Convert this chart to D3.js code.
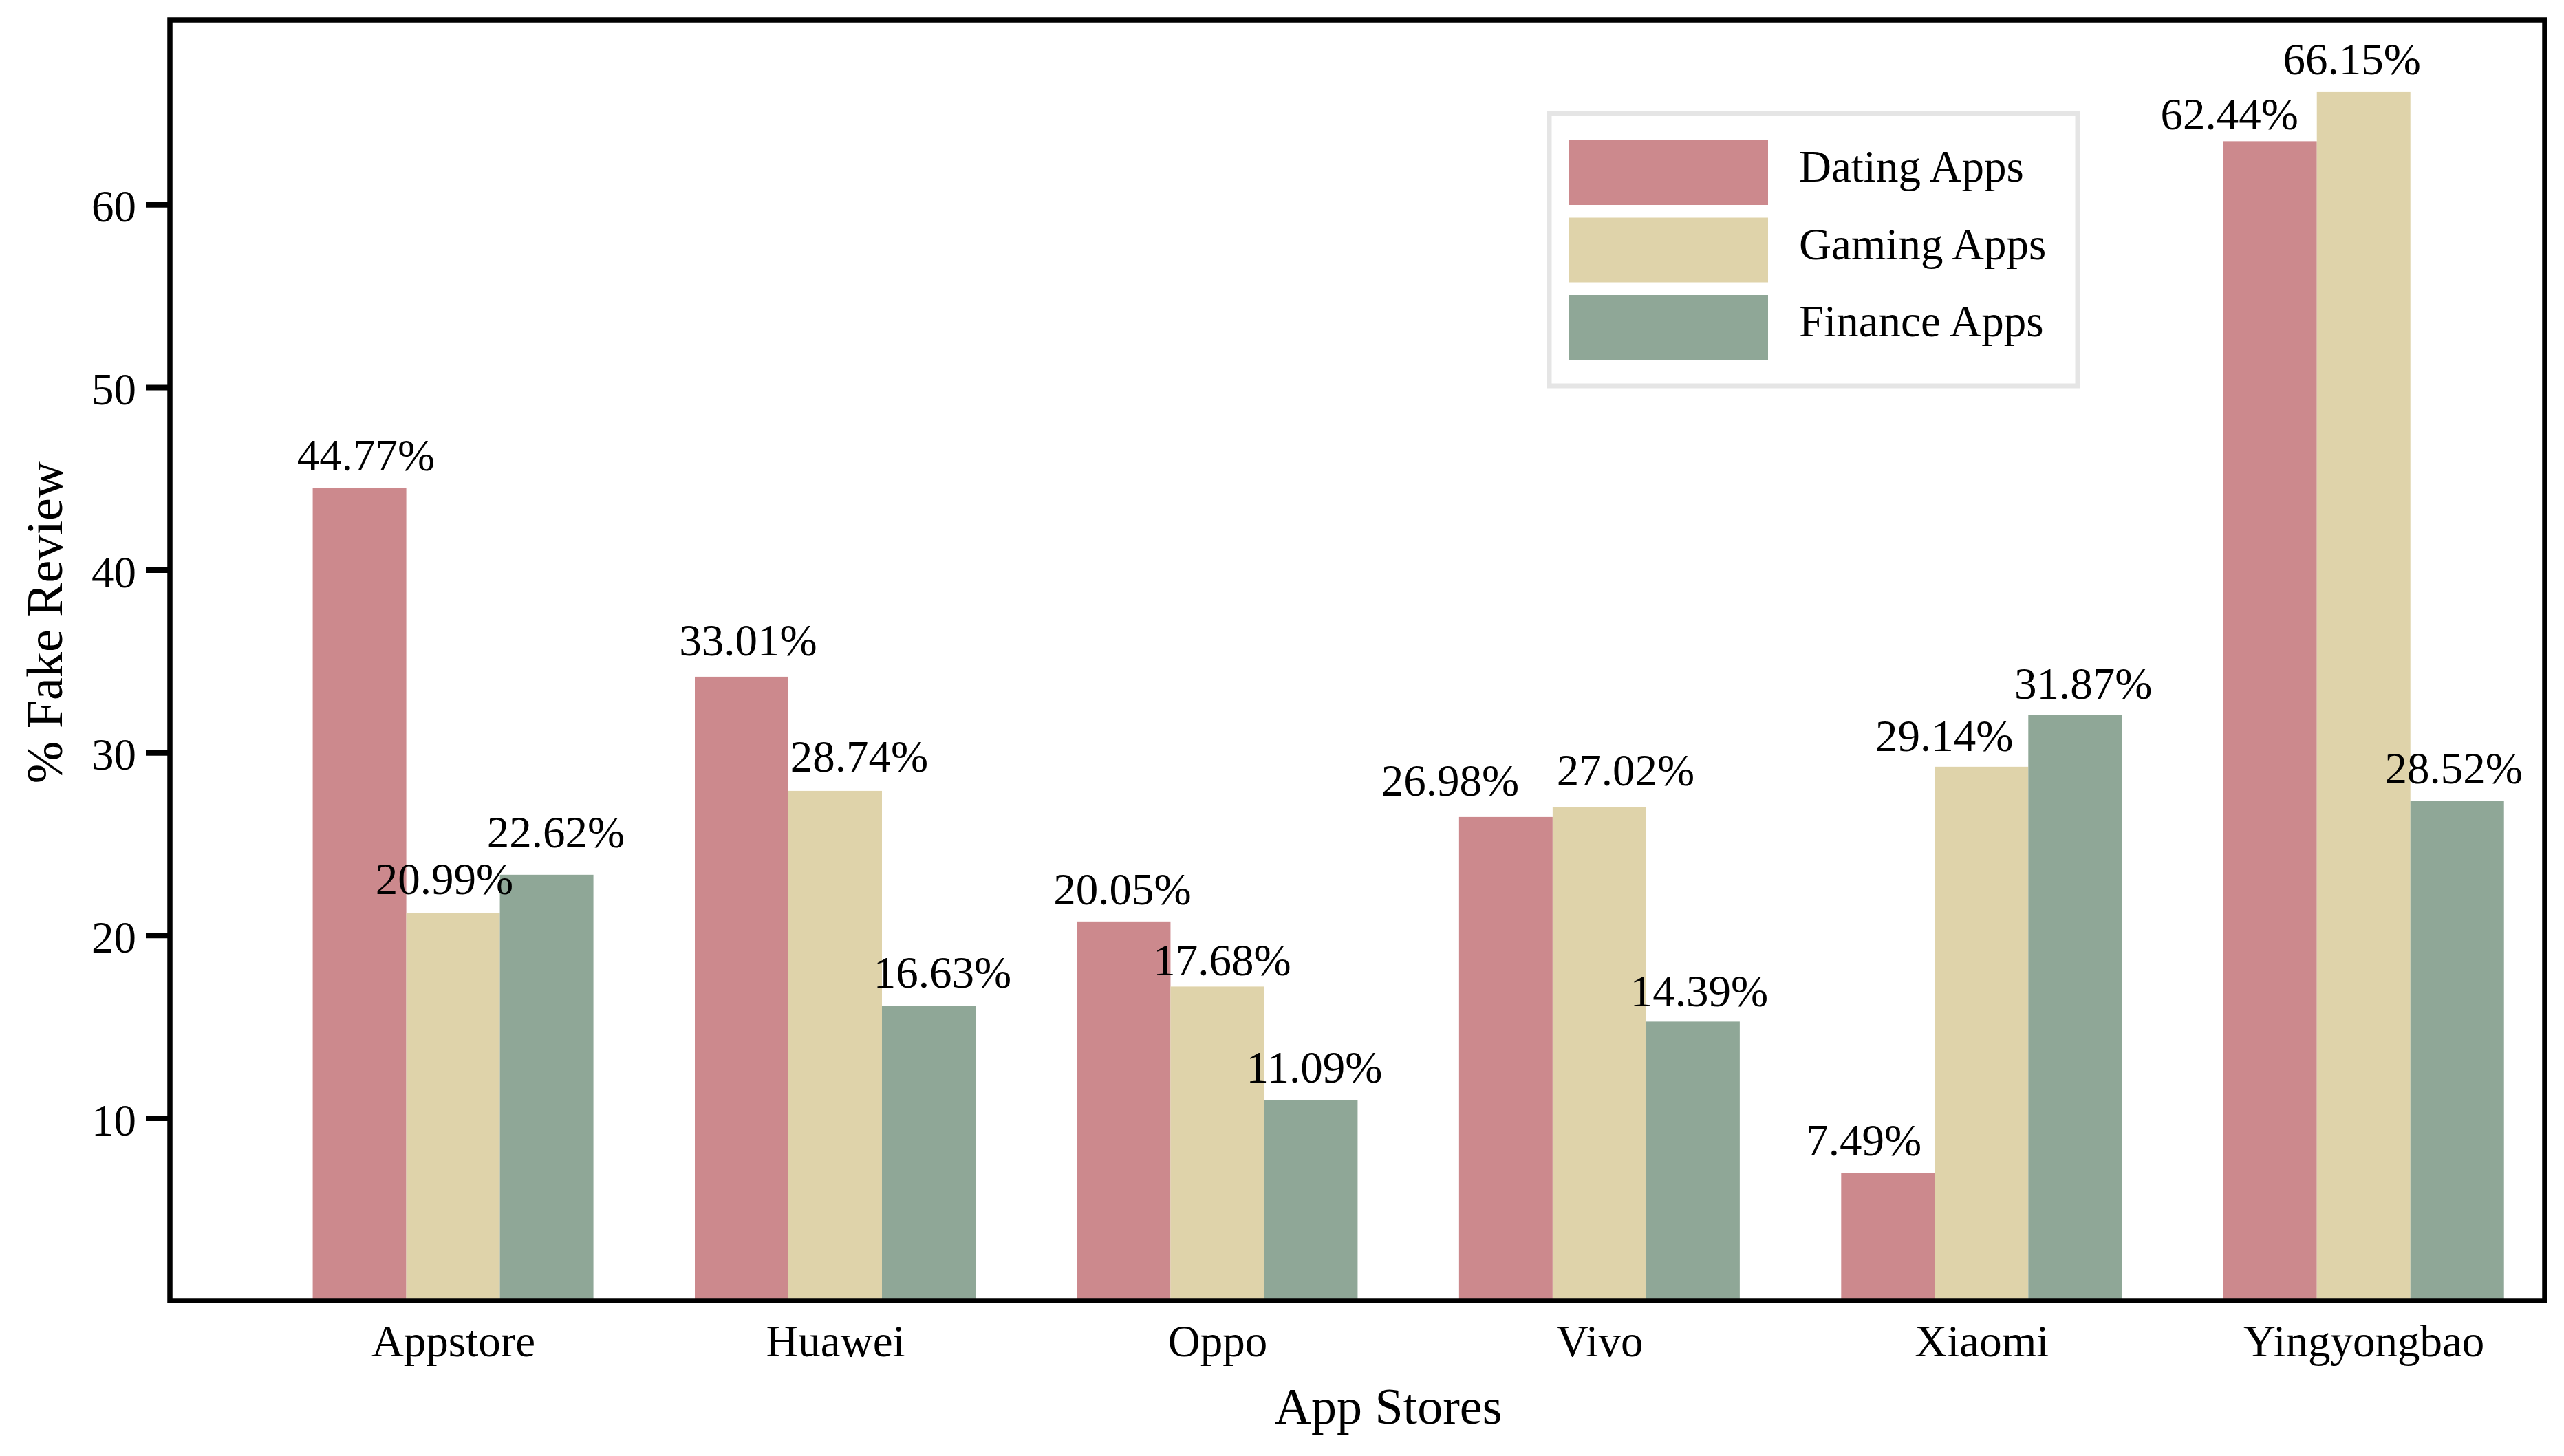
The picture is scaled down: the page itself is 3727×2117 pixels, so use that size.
<!doctype html>
<meta charset="utf-8">
<script src="https://d3js.org/d3.v7.min.js"></script>
<style>
  body { margin: 0; background: #fff; }
  text { font-family: "Liberation Serif", "Times New Roman", serif; fill: #000; }
</style>
<body></body>
<script>

var width = 3727;
var height = 2117;

// data
var stores = ["Appstore", "Huawei", "Oppo", "Vivo", "Xiaomi", "Yingyongbao"];
var seriesNames = ["Dating Apps", "Gaming Apps", "Finance Apps"];
var dating  = [44.50, 34.15, 20.75, 26.47, 6.97, 63.46];
var gaming  = [21.21, 27.90, 17.19, 27.03, 29.22, 66.15];
var finance = [23.31, 16.15, 10.97, 15.27, 32.04, 27.37];
var datingLabels  = ["44.77%", "33.01%", "20.05%", "26.98%", "7.49%", "62.44%"];
var gamingLabels  = ["20.99%", "28.74%", "17.68%", "27.02%", "29.14%", "66.15%"];
var financeLabels = ["22.62%", "16.63%", "11.09%", "14.39%", "31.87%", "28.52%"];
var yTicks = [10, 20, 30, 40, 50, 60];

var colors = ["#cc898d", "#dfd3aa", "#8fa797"];

// little hand nudges of the value labels (px), as in the original figure
var labelDx = [[9.5, 9.5, -2, -81, -35, -59],
               [-12.5, 35, 7, 38, -54, -17],
               [13.5, 20, 5, 9, 12, -5]];
var labelGap = [[25, 31, 25, 31, 26, 17],
                [28, 28, 16, 31, 23, 26],
                [40, 26, 26, 22, 24, 25]];

var values = [dating, gaming, finance];
var labels = [datingLabels, gamingLabels, financeLabels];

var plotLeft = 247, plotRight = 3699, plotTop = 29, plotBottom = 1891;

var svg = d3.select("body")
        .append("svg")
        .attr("width", width)
        .attr("height", height);

svg.append("rect")
        .attr("width", width)
        .attr("height", height)
        .attr("fill", "#fff");

var x = d3.scaleLinear()
        .domain([-0.741, 5.474])
        .range([plotLeft, plotRight]);

var sub = d3.scaleBand()
        .domain(seriesNames)
        .range([-204, 204]);

var y = d3.scaleLinear()
        .domain([0, 70.1])
        .range([plotBottom, plotTop]);

// bars
seriesNames.forEach(function(name, s){
    svg.append("g")
        .selectAll("rect")
        .data(values[s])
        .enter()
        .append("rect")
        .attr("x", function(d, i){ return x(i) + sub(name); })
        .attr("y", function(d){ return y(d); })
        .attr("width", sub.bandwidth())
        .attr("height", function(d){ return y(0) - y(d); })
        .attr("fill", colors[s]);
});

// value labels
seriesNames.forEach(function(name, s){
    svg.append("g")
        .selectAll("text")
        .data(values[s])
        .enter()
        .append("text")
        .attr("x", function(d, i){ return x(i) + sub(name) + sub.bandwidth() / 2 + labelDx[s][i]; })
        .attr("y", function(d, i){ return y(d) - labelGap[s][i]; })
        .attr("text-anchor", "middle")
        .style("font-size", "65px")
        .text(function(d, i){ return labels[s][i]; });
});

// axes
var yAxis = svg.append("g")
        .attr("transform", "translate(" + plotLeft + ",0)")
        .call(d3.axisLeft(y).tickValues(yTicks).tickSize(35).tickPadding(14));
yAxis.select(".domain").remove();
yAxis.selectAll("line").attr("stroke", "#000").attr("stroke-width", 8);
yAxis.selectAll("text")
        .attr("dy", "0.38em")
        .style("font-size", "65px")
        .style("font-family", "Liberation Serif");

var xAxis = svg.append("g")
        .attr("transform", "translate(0," + plotBottom + ")")
        .call(d3.axisBottom(x)
            .tickValues(d3.range(stores.length))
            .tickFormat(function(i){ return stores[i]; })
            .tickSize(0)
            .tickPadding(35));
xAxis.select(".domain").remove();
xAxis.selectAll("text")
        .style("font-size", "65px")
        .style("font-family", "Liberation Serif");

// frame
svg.append("rect")
        .attr("x", plotLeft)
        .attr("y", plotTop)
        .attr("width", plotRight - plotLeft)
        .attr("height", plotBottom - plotTop)
        .attr("fill", "none")
        .attr("stroke", "#000")
        .attr("stroke-width", 7.5);

// axis titles
svg.append("text")
        .attr("x", 2018)
        .attr("y", 2070)
        .attr("text-anchor", "middle")
        .style("font-size", "74px")
        .text("App Stores");

svg.append("text")
        .attr("transform", "translate(90,905) rotate(-90)")
        .attr("text-anchor", "middle")
        .style("font-size", "74px")
        .text("% Fake Review");

// legend
var legend = svg.append("g");
legend.append("rect")
        .attr("x", 2252)
        .attr("y", 165)
        .attr("width", 768)
        .attr("height", 396)
        .attr("fill", "#fff")
        .attr("stroke", "#e5e5e5")
        .attr("stroke-width", 7);

var items = legend.selectAll("g.item")
        .data(seriesNames)
        .enter()
        .append("g")
        .attr("transform", function(d, i){ return "translate(2280," + (204 + i * 112.5) + ")"; });

items.append("rect")
        .attr("width", 290)
        .attr("height", 94)
        .attr("fill", function(d, i){ return colors[i]; });

items.append("text")
        .attr("x", 335)
        .attr("y", 60)
        .style("font-size", "65px")
        .text(function(d){ return d; });

</script>
